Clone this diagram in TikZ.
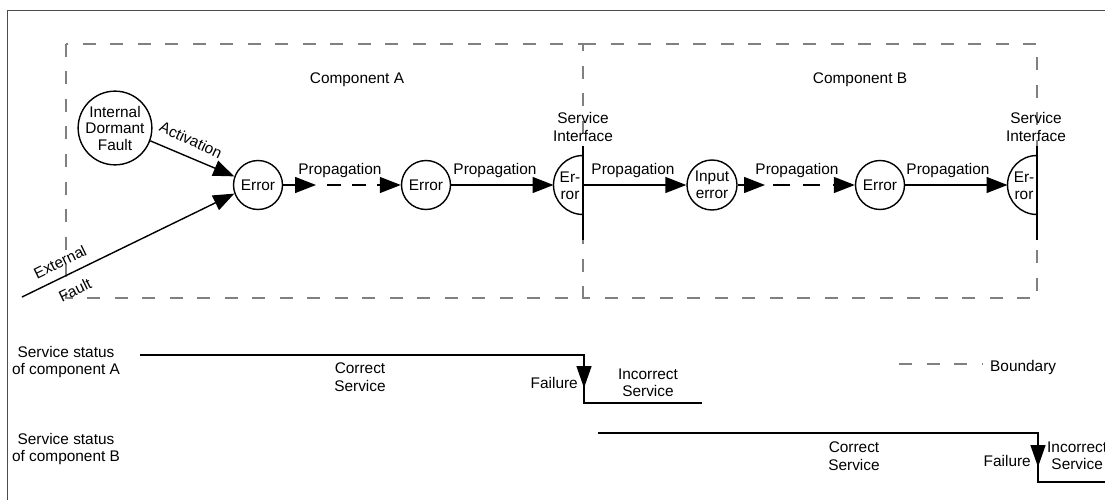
\documentclass[tikz,border=0pt]{standalone}
\usepackage{fontspec}
\setmainfont{Liberation Sans}
\usetikzlibrary{arrows.meta}
\begin{document}
\begin{tikzpicture}[x=1pt,y=-1pt,
  every node/.style={font=\fontsize{15.4}{17.5}\selectfont, align=center, inner sep=0pt},
  circ/.style={draw, circle, line width=1.4pt, minimum size=#1, font=\fontsize{15.4}{16.5}\selectfont},
  ln/.style={line width=1.4pt},
  arr/.style={line width=1.4pt, -{Triangle[length=21pt,width=16pt]}},
  darr/.style={line width=1.4pt, -{Triangle[length=22pt,width=15pt]}},
  bnd/.style={draw=black!50, line width=1.4pt, dash pattern=on 13pt off 14.5pt},
  frm/.style={draw=black!70, line width=1.4pt},
  prop/.style={anchor=base}
]
\useasboundingbox (0,0) rectangle (1105,500);
% frame
\draw[frm] (7.5,500) -- (7.5,10.5) -- (1105,10.5);
% boundaries
\draw[bnd] (66,44) rectangle (583,298);
\draw[bnd] (583,44) -- (1037,44) -- (1037,298) -- (583,298);
% component labels
\node (compA) at (357,80) {Component A};
\node (compB) at (860,80) {Component B};
% circles
\node[circ=70pt] (idf) at (115,128) {Internal\\Dormant\\Fault};
\node[circ=49pt] (e1) at (258,185) {Error};
\node[circ=49pt] (e2) at (426,185) {Error};
\node[circ=50pt] (ie) at (712,185) {Input\\error};
\node[circ=49pt] (e3) at (880,185) {Error};
% service interfaces
\coordinate (siA) at (583,185);
\coordinate (siB) at (1037,185);
\draw[ln] (583,146) -- (583,240);
\draw[ln] (1037,146) -- (1037,240);
\draw[ln] (583,155.5) arc[start angle=270, end angle=90, radius=29.5];
\draw[ln] (1037,155.5) arc[start angle=270, end angle=90, radius=29.5];
\coordinate (hAin) at (553.5,185);
\coordinate (hBin) at (1007.5,185);
\node (hA) at (570,186) {Er-\\ror};
\node (hB) at (1024,186) {Er-\\ror};
\node (siAl) at (583,127) {Service\\Interface};
\node (siBl) at (1036,127) {Service\\Interface};
% faults
\coordinate (ext) at (22,297);
\draw[arr] (idf.-20) -- (e1.160);
\draw[arr] (ext) -- (e1.200);
\node[rotate=-25] (actl) at (191,140) {Activation};
\node[rotate=26] (extl) at (60,262) {External};
\node[rotate=26] (fltl) at (75,290) {Fault};
% propagation 1 (dashed)
\coordinate (p1a) at (316,185);
\coordinate (p1b) at (380,185);
\draw[arr] (e1) -- (p1a);
\draw[ln, dash pattern=on 14pt off 11pt, dash phase=14pt] (p1a) -- (p1b);
\draw[arr] (p1b) -- (e2);
\node[prop] (pl1) at (340,174) {Propagation};
% propagation 2
\draw[arr] (e2) -- (hAin);
\node[prop] (pl2) at (495,174) {Propagation};
% propagation 3
\draw[arr] (siA) -- (ie);
\node[prop] (pl3) at (633,174) {Propagation};
% propagation 4 (dashed)
\coordinate (p2a) at (765,185);
\coordinate (p2b) at (833,185);
\draw[arr] (ie) -- (p2a);
\draw[ln, dash pattern=on 17pt off 13pt, dash phase=22pt] (p2a) -- (p2b);
\draw[arr] (p2b) -- (e3);
\node[prop] (pl4) at (797,174) {Propagation};
% propagation 5
\draw[arr] (e3) -- (hBin);
\node[prop] (pl5) at (948,174) {Propagation};
% service status A
\node (ssA) at (66,362) {Service status\\of component A};
\coordinate (a0) at (140,355);
\coordinate (a1) at (584,355);
\coordinate (a2) at (584,403);
\coordinate (a3) at (702,403);
\coordinate (aT) at (584,388);
\draw[ln] (a0) -- (a1) -- (a2) -- (a3);
\draw[darr] (a1) -- (aT);
\node (csA) at (360,377) {Correct\\Service};
\node[anchor=east] (fA) at (578,383) {Failure};
\node (isA) at (648,383) {Incorrect\\Service};
% service status B
\node (ssB) at (66,449) {Service status\\of component B};
\coordinate (b0) at (598,433);
\coordinate (b1) at (1038,433);
\coordinate (b2) at (1038,482);
\coordinate (b3) at (1105,482);
\coordinate (bT) at (1038,467);
\draw[ln] (b0) -- (b1) -- (b2) -- (b3);
\draw[darr] (b1) -- (bT);
\node (csB) at (854,456) {Correct\\Service};
\node[anchor=east] (fB) at (1031,461) {Failure};
\node[anchor=west] (isB) at (1047,456) {Incorrect\\Service};
% legend
\coordinate (lg0) at (899,364);
\coordinate (lg1) at (983,364);
\draw[bnd] (lg0) -- (lg1);
\node[anchor=west] (lgl) at (990,368) {Boundary};
\end{tikzpicture}
\end{document}
